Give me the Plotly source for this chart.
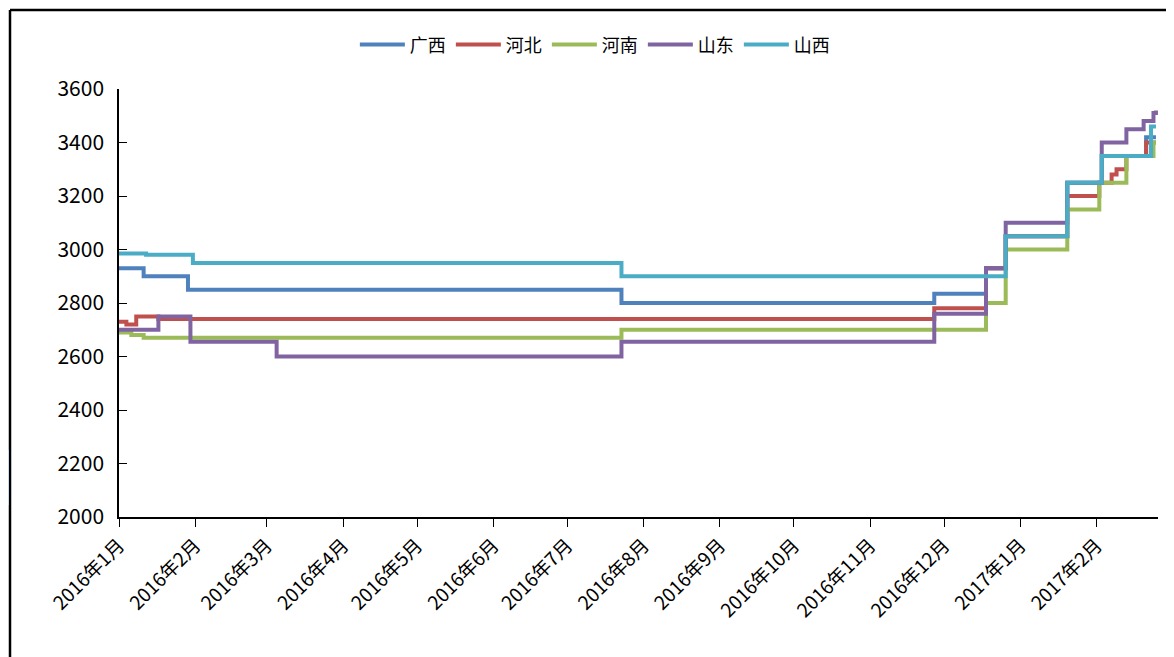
import plotly.graph_objects as go

# Step-change points (date, price) for each province
guangxi_dates = ["2016-01-01", "2016-01-11", "2016-01-29", "2016-07-23", "2016-11-27",
                 "2016-12-18", "2016-12-26", "2017-01-20", "2017-02-03", "2017-02-21", "2017-02-25"]
guangxi_vals = [2930, 2900, 2850, 2800, 2835, 2930, 3050, 3250, 3350, 3420, 3420]

hebei_dates = ["2016-01-01", "2016-01-04", "2016-01-08", "2016-01-17", "2016-11-27",
               "2016-12-18", "2016-12-26", "2017-01-20", "2017-02-02", "2017-02-07",
               "2017-02-09", "2017-02-13", "2017-02-21", "2017-02-25"]
hebei_vals = [2730, 2720, 2750, 2740, 2780, 2930, 3050, 3200, 3250, 3280, 3300, 3350, 3400, 3400]

henan_dates = ["2016-01-01", "2016-01-06", "2016-01-11", "2016-07-23", "2016-12-18",
               "2016-12-26", "2017-01-20", "2017-02-02", "2017-02-13", "2017-02-24", "2017-02-25"]
henan_vals = [2690, 2680, 2670, 2700, 2800, 3000, 3150, 3250, 3350, 3400, 3400]

shandong_dates = ["2016-01-01", "2016-01-17", "2016-01-30", "2016-03-05", "2016-07-23",
                  "2016-11-27", "2016-12-18", "2016-12-26", "2017-01-20", "2017-02-03",
                  "2017-02-13", "2017-02-20", "2017-02-24", "2017-02-25"]
shandong_vals = [2700, 2750, 2655, 2600, 2655, 2760, 2930, 3100, 3250, 3400, 3450, 3480, 3510, 3520]

shanxi_dates = ["2016-01-01", "2016-01-12", "2016-01-31", "2016-07-23", "2016-12-26",
                "2017-01-20", "2017-02-03", "2017-02-23", "2017-02-25"]
shanxi_vals = [2985, 2980, 2950, 2900, 3050, 3250, 3350, 3460, 3460]

series = [
    ("广西", guangxi_dates, guangxi_vals, "#4F81BD"),
    ("河北", hebei_dates, hebei_vals, "#C0504D"),
    ("河南", henan_dates, henan_vals, "#9BBB59"),
    ("山东", shandong_dates, shandong_vals, "#8064A2"),
    ("山西", shanxi_dates, shanxi_vals, "#4BACC6"),
]

y_ticks = [2000, 2200, 2400, 2600, 2800, 3000, 3200, 3400, 3600]

fig = go.Figure()
for name, d, v, c in series:
    fig.add_trace(go.Scatter(x=d, y=v, mode="lines", name=name,
                             line=dict(color=c, width=4, shape="hv")))

font = "Noto Sans CJK SC"
# page body has an 8px offset, so the figure is 8px smaller and margins shifted
fig.update_layout(
    width=1166, height=649,
    margin=dict(l=111, r=16, t=81, b=140),
    paper_bgcolor="white", plot_bgcolor="white",
    font=dict(family=font, color="#000000"),
    showlegend=True,
    legend=dict(orientation="h", x=0.458, xanchor="center", y=1.103, yanchor="middle",
                font=dict(size=18, family=font), itemwidth=45, tracegroupgap=0),
    xaxis=dict(type="date", range=["2016-01-01", "2017-02-25 20:00"],
               tickmode="linear", tick0="2016-01-01", dtick="M1",
               tickformat="%Y年%-m月", tickangle=-45,
               tickfont=dict(size=19, family=font),
               showgrid=False, zeroline=False,
               showline=True, linecolor="#000000", linewidth=1.5,
               ticks="outside", ticklen=8, tickcolor="#000000"),
    yaxis=dict(range=[2000, 3600], tickvals=y_ticks,
               tickfont=dict(size=21, family=font),
               ticklabelstandoff=9,
               showgrid=False, zeroline=False,
               showline=True, linecolor="#000000", linewidth=1.5,
               ticks="inside", ticklen=8, tickcolor="#000000"),
)

# Frame of the picture (left and top border) and the small blue patch on the left edge
W, L, T, H = 1039.0, 119.0, 89.0, 428.0
def px(xp):
    return (xp - L) / W
def py(yp):
    return (T + H - yp) / H

fig.add_shape(type="line", xref="paper", yref="paper", x0=px(10), x1=px(1180), y0=py(10), y1=py(10),
              line=dict(color="#000000", width=2.5))
fig.add_shape(type="line", xref="paper", yref="paper", x0=px(10), x1=px(10), y0=py(10), y1=py(670),
              line=dict(color="#000000", width=2.5))
fig.add_shape(type="rect", xref="paper", yref="paper", x0=px(0), x1=px(9), y0=py(450), y1=py(505),
              line=dict(width=0), fillcolor="#C6D9F1")

fig.write_html("out.html")
